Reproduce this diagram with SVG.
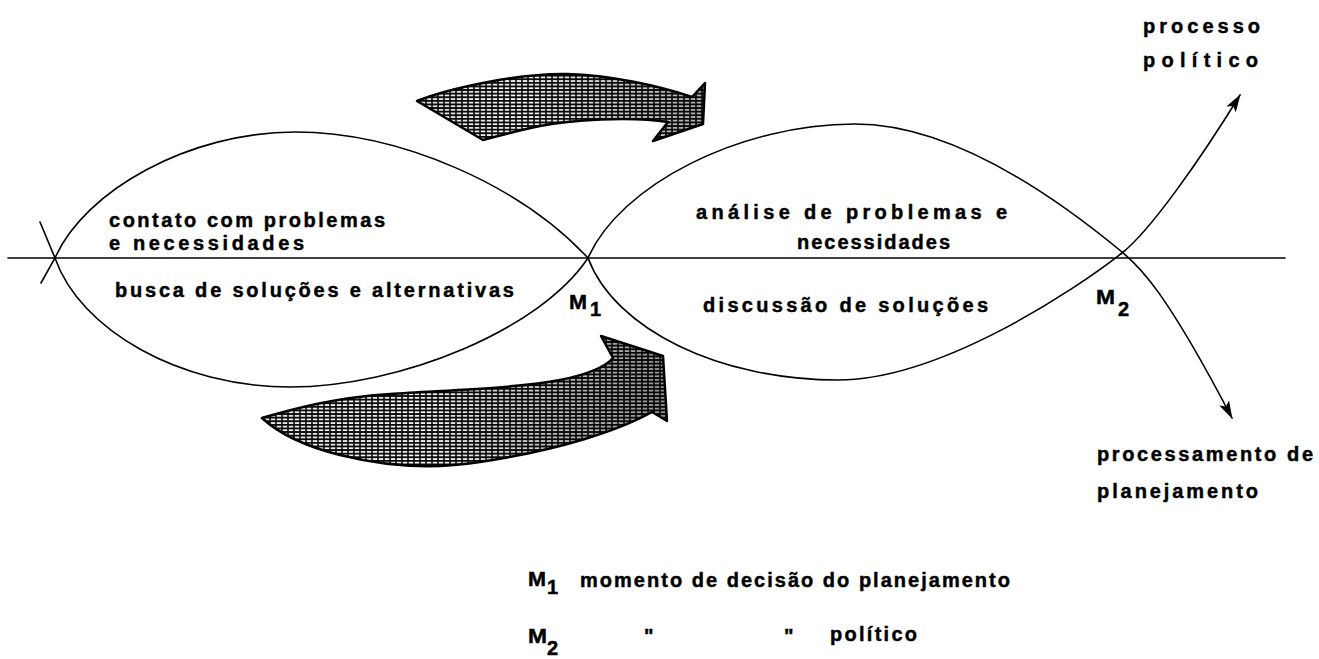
<svg xmlns="http://www.w3.org/2000/svg" width="1319" height="659" viewBox="0 0 1319 659">
<style>
.t{font-family:"Liberation Sans",Arial,sans-serif;font-weight:bold;fill:#000;stroke:#000;stroke-width:0.45;font-size:20px}
.ln{fill:none;stroke:#000;stroke-width:1.6;stroke-linecap:round}
.blk{fill:url(#hatch);stroke:#000;stroke-width:2.5;stroke-linejoin:round}
</style>
<defs>
<pattern id="hatch" width="6" height="3.6" patternUnits="userSpaceOnUse">
<rect width="6" height="3.6" fill="#0a0a0a"/>
<rect x="0.8" y="1" width="4.4" height="1.7" fill="#fff"/>
</pattern>
<linearGradient id="shadeU" x1="417" y1="0" x2="705" y2="0" gradientUnits="userSpaceOnUse">
<stop offset="0" stop-color="#000" stop-opacity="0.1"/>
<stop offset="0.35" stop-color="#000" stop-opacity="0"/>
<stop offset="1" stop-color="#000" stop-opacity="0.3"/>
</linearGradient>
<linearGradient id="shadeL" x1="262" y1="0" x2="667" y2="0" gradientUnits="userSpaceOnUse">
<stop offset="0" stop-color="#000" stop-opacity="0.05"/>
<stop offset="0.4" stop-color="#000" stop-opacity="0"/>
<stop offset="1" stop-color="#000" stop-opacity="0.4"/>
</linearGradient>
<marker id="ah" viewBox="0 0 18 11" refX="17" refY="5.5" markerWidth="18" markerHeight="11" orient="auto" markerUnits="userSpaceOnUse">
<path d="M0,0 L18,5.5 L0,11 L4,5.5 z" fill="#000"/>
</marker>
</defs>
<rect width="1319" height="659" fill="#fff"/>

<g id="connectors">
<line id="axis" class="ln" x1="8" y1="258" x2="1285" y2="258" stroke-width="1.3"/>
<path id="left-upper" class="ln" d="M41,283 L55,258 C85,190 190,132 295,132 C400,132 520,185 588,258"/>
<path id="left-lower" class="ln" d="M40,222 L55,258 C80,330 180,387 290,387 C400,387 540,330 588,258"/>
<path id="right-upper" class="ln" d="M588,258 C620,185 740,124 855,124 C960,124 1070,209 1122,252 C1140,267 1165,290 1232,418" marker-end="url(#ah)"/>
<path id="right-lower" class="ln" d="M588,258 C615,330 720,380 838,380 C940,380 1075,290 1122,253 C1150,231 1200,160 1240,95" marker-end="url(#ah)"/>
</g>

<g id="arrow-upper">
<path class="blk" d="M417,101 C450,88 520,73 567,74 C610,75 660,86 692,97 L705,83 L703,124 L653,141 L668,122 C630,116 570,120 540,126 C515,131 495,137 483,140 Z"/>
<path d="M417,101 C450,88 520,73 567,74 C610,75 660,86 692,97 L705,83 L703,124 L653,141 L668,122 C630,116 570,120 540,126 C515,131 495,137 483,140 Z" fill="url(#shadeU)"/>
</g>
<g id="arrow-lower">
<path class="blk" d="M262,418 C290,410 330,398 390,394 C450,390 520,388 560,380 C585,375 605,367 613,358 L601,336 L663,356 L667,421 L652,412 C620,430 560,450 480,462 C430,470 380,465 340,455 C300,445 275,430 262,418 Z"/>
<path d="M262,418 C290,410 330,398 390,394 C450,390 520,388 560,380 C585,375 605,367 613,358 L601,336 L663,356 L667,421 L652,412 C620,430 560,450 480,462 C430,470 380,465 340,455 C300,445 275,430 262,418 Z" fill="url(#shadeL)"/>
</g>

<g id="node-contato">
<text class="t" x="109" y="227" textLength="276" lengthAdjust="spacing">contato com problemas</text>
<text class="t" x="109" y="250" textLength="195" lengthAdjust="spacing">e necessidades</text>
</g>
<g id="node-busca">
<text class="t" x="115" y="297" textLength="399" lengthAdjust="spacing">busca de soluções e alternativas</text>
</g>
<g id="node-analise">
<text class="t" x="696" y="219" textLength="311" lengthAdjust="spacing">análise de problemas e</text>
<text class="t" x="797" y="249" textLength="153" lengthAdjust="spacing">necessidades</text>
</g>
<g id="node-discussao">
<text class="t" x="703" y="312" textLength="285" lengthAdjust="spacing">discussão de soluções</text>
</g>
<g id="node-m1">
<text class="t" x="569" y="309" font-size="17" textLength="18" lengthAdjust="spacingAndGlyphs">M</text>
<text class="t" x="590" y="316" font-size="18">1</text>
</g>
<g id="node-m2">
<text class="t" x="1096" y="304" font-size="17" textLength="19" lengthAdjust="spacingAndGlyphs">M</text>
<text class="t" x="1118" y="316" font-size="19">2</text>
</g>
<g id="node-processo-politico">
<text class="t" x="1143" y="33" textLength="117" lengthAdjust="spacing">processo</text>
<text class="t" x="1143" y="67" textLength="115" lengthAdjust="spacing">político</text>
</g>
<g id="node-processamento">
<text class="t" x="1097" y="461" textLength="216" lengthAdjust="spacing">processamento de</text>
<text class="t" x="1097" y="498" textLength="161" lengthAdjust="spacing">planejamento</text>
</g>
<g id="legend">
<text class="t" x="528" y="586" font-size="17" textLength="18" lengthAdjust="spacingAndGlyphs">M</text>
<text class="t" x="547" y="594" font-size="15">1</text>
<text class="t" x="580" y="587" textLength="430" lengthAdjust="spacing">momento de decisão do planejamento</text>
<text class="t" x="528" y="643" font-size="17" textLength="19" lengthAdjust="spacingAndGlyphs">M</text>
<text class="t" x="547" y="655" font-size="19">2</text>
<text class="t" x="644" y="643">"</text>
<text class="t" x="784" y="643">"</text>
<text class="t" x="830" y="641" textLength="87" lengthAdjust="spacing">político</text>
</g>
</svg>
